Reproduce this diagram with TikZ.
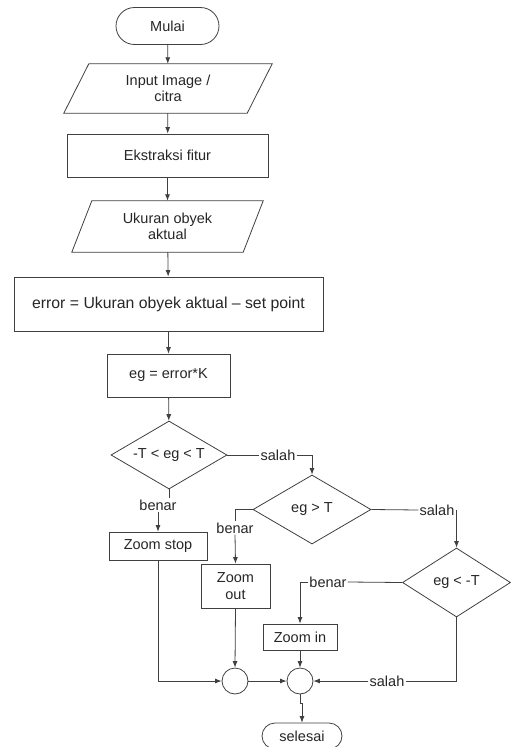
\documentclass[tikz,border=0pt]{standalone}
\usepackage{fontspec}
\setmainfont{Liberation Sans}
\usetikzlibrary{shapes.geometric,shapes.misc,arrows.meta}
\begin{document}
\begin{tikzpicture}[x=1pt,y=-1pt,
  base/.style={font=\fontsize{14.5}{16.5}\selectfont, text=black!85, inner sep=0pt, align=center},
  ln/.style={draw=black!75, line width=0.8pt},
  arr/.style={ln, -{Latex[length=6.5pt,width=5pt]}},
  term/.style={base, ln, rounded rectangle},
  box/.style={base, ln, rectangle},
  io/.style={base, rectangle},
  dec/.style={base, ln, diamond, aspect=1.7},
  junc/.style={ln, circle, minimum size=26pt, inner sep=0pt},
  lbl/.style={base, fill=white, inner sep=1pt}
]
\useasboundingbox (0,0) rectangle (511,747);

% main column
\node[term, minimum width=103pt, minimum height=37pt] (mulai) at (167.5,26) {Mulai};
\node[io, minimum width=208pt, minimum height=49pt] (inp) at (168,88.5) {Input Image /\\citra};
\node[box, minimum width=201pt, minimum height=43pt] (ekst) at (167.5,155.5) {Ekstraksi fitur};
\node[io, minimum width=191pt, minimum height=51pt] (uk) at (167.5,226.5) {Ukuran obyek\\aktual};
\node[box, minimum width=309pt, minimum height=54pt, font=\fontsize{15.8}{18}\selectfont] (err) at (168.5,304) {error = Ukuran obyek aktual – set point};
\node[box, minimum width=123pt, minimum height=43pt] (eg) at (168.5,375.5) {eg = error*K};

% parallelograms
\draw[ln] ([xshift=25pt]inp.north west) -- (inp.north east) -- ([xshift=-25pt]inp.south east) -- (inp.south west) -- cycle;
\draw[ln] ([xshift=20pt]uk.north west) -- (uk.north east) -- ([xshift=-20pt]uk.south east) -- (uk.south west) -- cycle;

% decisions
\node[dec, minimum width=116pt, minimum height=68pt] (d1) at (169,455) {-T < eg < T};
\node[dec, minimum width=118pt, minimum height=69pt] (d2) at (312,509.5) {eg > T};
\node[dec, minimum width=108pt, minimum height=69pt] (d3) at (456.5,582.5) {eg < -T};

% actions
\node[box, minimum width=98pt, minimum height=28pt] (zs) at (158,546) {Zoom stop};
\node[box, minimum width=69pt, minimum height=44pt] (zo) at (235.5,586) {Zoom\\out};
\node[box, minimum width=74pt, minimum height=26pt] (zi) at (300,637) {Zoom in};

% junctions
\node[junc] (c1) at (235,681) {};
\node[junc] (c2) at (300,681) {};

\node[term, minimum width=80pt, minimum height=26pt] (sel) at (302,736) {selesai};

% labels
\node[lbl] (s1) at (278,455) {salah};
\node[lbl] (s2) at (437,510) {salah};
\node[lbl] (s3) at (387,681) {salah};
\node[lbl] (b1) at (158,505) {benar};
\node[lbl] (b2) at (235,528) {benar};
\node[lbl] (b3) at (328,582) {benar};

% main arrows
\draw[arr] (mulai) -- (inp);
\draw[arr] (inp) -- (ekst);
\draw[arr] (ekst) -- (uk);
\draw[arr] (uk) -- (err);
\draw[arr] (err) -- (eg);
\draw[arr] (eg) -- (d1);

% branches
\draw[ln] (d1.east) -- (s1.west);
\draw[arr] (s1.east) -| (d2.north);
\draw[ln] (d2.east) -- (s2.west);
\draw[arr] (s2.east) -| (d3.north);

\draw[ln] (d1.south) -- (d1.south |- b1.north);
\draw[arr] (b1.south) -- (zs.north);
\draw[ln] (d2.west) -| (b2.north);
\draw[arr] (b2.south) -- (zo.north);
\draw[ln] (d3.west) -- (b3.east);
\draw[arr] (b3.west) -| (zi.north);
\draw[ln] (d3.south) |- (s3.east);
\draw[arr] (s3.west) -- (c2.east);

% to junctions
\draw[arr] (zs.south) |- (c1.west);
\draw[arr] (zo.south) -- (c1.north);
\draw[arr] (c1.east) -- (c2.west);
\draw[arr] (zi.south) -- (c2.north);
\draw[arr] (c2.south) -- ++(0,9) -| (sel.north);
\end{tikzpicture}
\end{document}
